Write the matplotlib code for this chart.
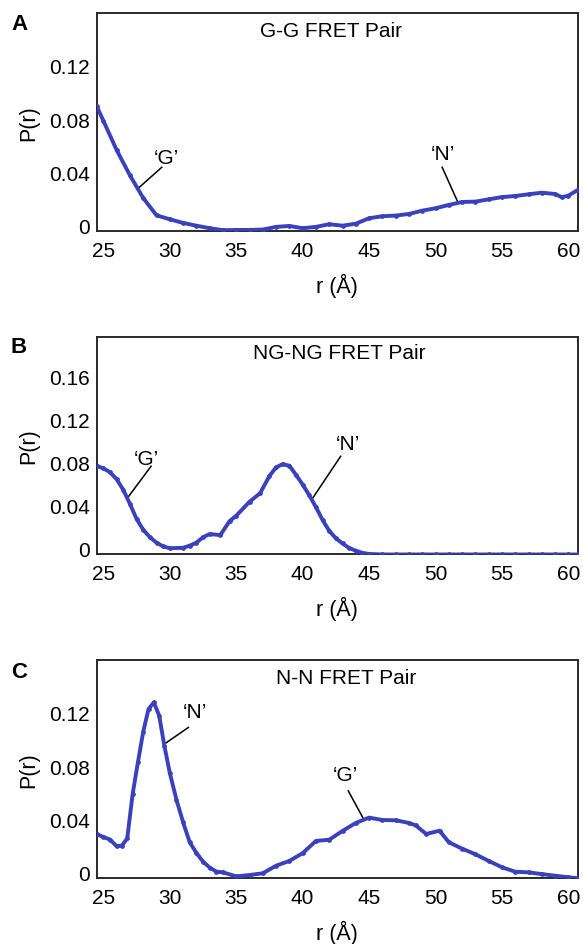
import matplotlib
matplotlib.use("Agg")
import matplotlib.pyplot as plt
from matplotlib.transforms import ScaledTranslation

plt.rcParams['font.family'] = ['Liberation Sans', 'DejaVu Sans']

# distance axis (Angstrom) and P(r)
r_gg = [24.5, 25, 26, 27, 28, 29, 30, 31, 32, 33, 34, 35, 36, 37, 38, 39, 40, 41, 42,
        43, 44, 45, 46, 47, 48, 49, 50, 51, 52, 53, 54, 55, 56, 57, 58, 59, 59.5, 60, 60.7]
p_gg = [0.094, 0.083, 0.061, 0.042, 0.025, 0.012, 0.009, 0.0063, 0.0042, 0.0023, 0.0008,
        0.001, 0.001, 0.0013, 0.0033, 0.004, 0.0023, 0.0033, 0.0053, 0.0042, 0.0057,
        0.0098, 0.0113, 0.0118, 0.013, 0.0155, 0.0173, 0.0198, 0.022, 0.0223, 0.024,
        0.0257, 0.0265, 0.0278, 0.029, 0.028, 0.0256, 0.0268, 0.031]

r_ngng = [24.5, 25, 25.5, 26, 26.5, 27, 27.5, 28, 28.5, 29, 29.5, 30, 31, 31.5, 32, 32.5,
          33, 33.8, 34.5, 35, 36, 36.8, 37.5, 38, 38.5, 39, 39.5, 40, 40.5, 41, 41.5, 42,
          42.5, 43, 43.5, 44, 44.5, 45, 46, 47, 48, 49, 50, 51, 52, 53, 54, 55, 56, 57,
          58, 59, 60, 60.7]
p_ngng = [0.0825, 0.080, 0.0765, 0.070, 0.060, 0.047, 0.033, 0.023, 0.016, 0.011, 0.0075,
          0.0058, 0.0062, 0.0082, 0.011, 0.016, 0.019, 0.018, 0.031, 0.036, 0.049, 0.057,
          0.073, 0.081, 0.084, 0.0825, 0.074, 0.065, 0.055, 0.044, 0.032, 0.022, 0.015,
          0.0102, 0.006, 0.0035, 0.0015, 0.0005, 0, 0, 0, 0, 0, 0, 0, 0, 0, 0, 0, 0, 0,
          0, 0, 0]

r_nn = [24.5, 25, 25.5, 26, 26.4, 26.8, 27.2, 27.6, 28, 28.4, 28.8, 29.2, 29.6, 30, 30.5,
        31, 31.5, 32, 32.5, 33, 33.5, 34, 35, 36, 37, 38, 39, 40, 41, 42, 43, 44, 45, 46,
        47, 48, 48.5, 49.3, 50.3, 51, 52, 53, 54, 55, 56, 57, 58, 59, 60, 60.7]
p_nn = [0.033, 0.031, 0.029, 0.024, 0.0245, 0.030, 0.063, 0.087, 0.110, 0.127, 0.132,
        0.122, 0.099, 0.079, 0.059, 0.042, 0.027, 0.019, 0.0125, 0.008, 0.005, 0.0044,
        0.0014, 0.0024, 0.0037, 0.0094, 0.013, 0.0188, 0.028, 0.0289, 0.0355, 0.0415,
        0.0455, 0.0437, 0.0435, 0.0415, 0.0397, 0.0332, 0.0357, 0.027, 0.0222, 0.018,
        0.013, 0.0082, 0.0049, 0.0044, 0.0031, 0.0019, 0.0007, 0.0]

x_ticks = [25, 30, 35, 40, 45, 50, 55, 60]

panels = [
    dict(letter='A', title='G-G FRET Pair', r=r_gg, p=p_gg, ylim=0.164,
         yticks=[0, 0.04, 0.08, 0.12], ytl=['0', '0.04', '0.08', '0.12'],
         rect=[0.1659, 0.7542, 0.825, 0.2310], title_pos=(0.487, 0.919), let_y=25,
         notes=[("\u2018G\u2019", (29.77, 0.0556), (29.4, 0.0481), (27.7, 0.033)),
                ("\u2018N\u2019", (50.58, 0.0581), (50.5, 0.0481), (51.66, 0.0223))]),
    dict(letter='B', title='NG-NG FRET Pair', r=r_ngng, p=p_ngng, ylim=0.2025,
         yticks=[0, 0.04, 0.08, 0.12, 0.16], ytl=['0', '0.04', '0.08', '0.12', '0.16'],
         rect=[0.1659, 0.4122, 0.825, 0.2305], title_pos=(0.504, 0.928), let_y=347.5,
         notes=[("\u2018G\u2019", (28.26, 0.0895), (28.59, 0.082), (26.8, 0.0523)),
                ("\u2018N\u2019", (43.43, 0.1028), (42.86, 0.0913), (40.75, 0.0523))]),
    dict(letter='C', title='N-N FRET Pair', r=r_nn, p=p_nn, ylim=0.164,
         yticks=[0, 0.04, 0.08, 0.12], ytl=['0', '0.04', '0.08', '0.12'],
         rect=[0.1659, 0.0696, 0.825, 0.2312], title_pos=(0.518, 0.919), let_y=672.5,
         notes=[("\u2018N\u2019", (31.9, 0.1249), (31.4, 0.1132), (29.69, 0.1014)),
                ("\u2018G\u2019", (43.24, 0.0776), (43.43, 0.0656), (44.56, 0.0449))]),
]

fig = plt.figure(figsize=(5.83, 9.45), dpi=100)
lift = ScaledTranslation(0, 4 / 72, fig.dpi_scale_trans)  # y labels sit a bit high in the original

for pn in panels:
    ax = fig.add_axes(pn['rect'])
    ax.plot(pn['r'], pn['p'], color='#3a41bc', lw=2.8, marker='o', ms=2.4,
            solid_capstyle='round', solid_joinstyle='round', zorder=3)
    ax.set_xlim(24.5, 60.7)
    ax.set_ylim(0, pn['ylim'])
    ax.set_xticks(x_ticks)
    ax.set_yticks(pn['yticks'])
    ax.set_yticklabels(pn['ytl'])
    ax.tick_params(axis='both', length=0, labelsize=15)
    ax.tick_params(axis='x', pad=7)
    ax.tick_params(axis='y', pad=5)
    for t in ax.yaxis.get_major_ticks():
        t.label1.set_transform(t.label1.get_transform() + lift)
    for s in ax.spines.values():
        s.set_linewidth(1.4)
        s.set_color('#2a2a2a')
    ax.set_xlabel('r (\u00c5)', fontsize=15.5, labelpad=9)
    ax.set_ylabel('P(r)', fontsize=15.5, labelpad=7)
    ax.text(pn['title_pos'][0], pn['title_pos'][1], pn['title'], transform=ax.transAxes,
            ha='center', va='center', fontsize=15)
    for txt, tpos, l0, l1 in pn['notes']:
        ax.text(tpos[0], tpos[1], txt, ha='center', va='center', fontsize=15)
        ax.plot([l0[0], l1[0]], [l0[1], l1[1]], color='black', lw=1.1, zorder=2)
    fig.text(19 / 583, 1 - pn['let_y'] / 945, pn['letter'], ha='center', va='center',
             fontsize=16, fontweight='bold')

fig.savefig('out.png', dpi=100)
